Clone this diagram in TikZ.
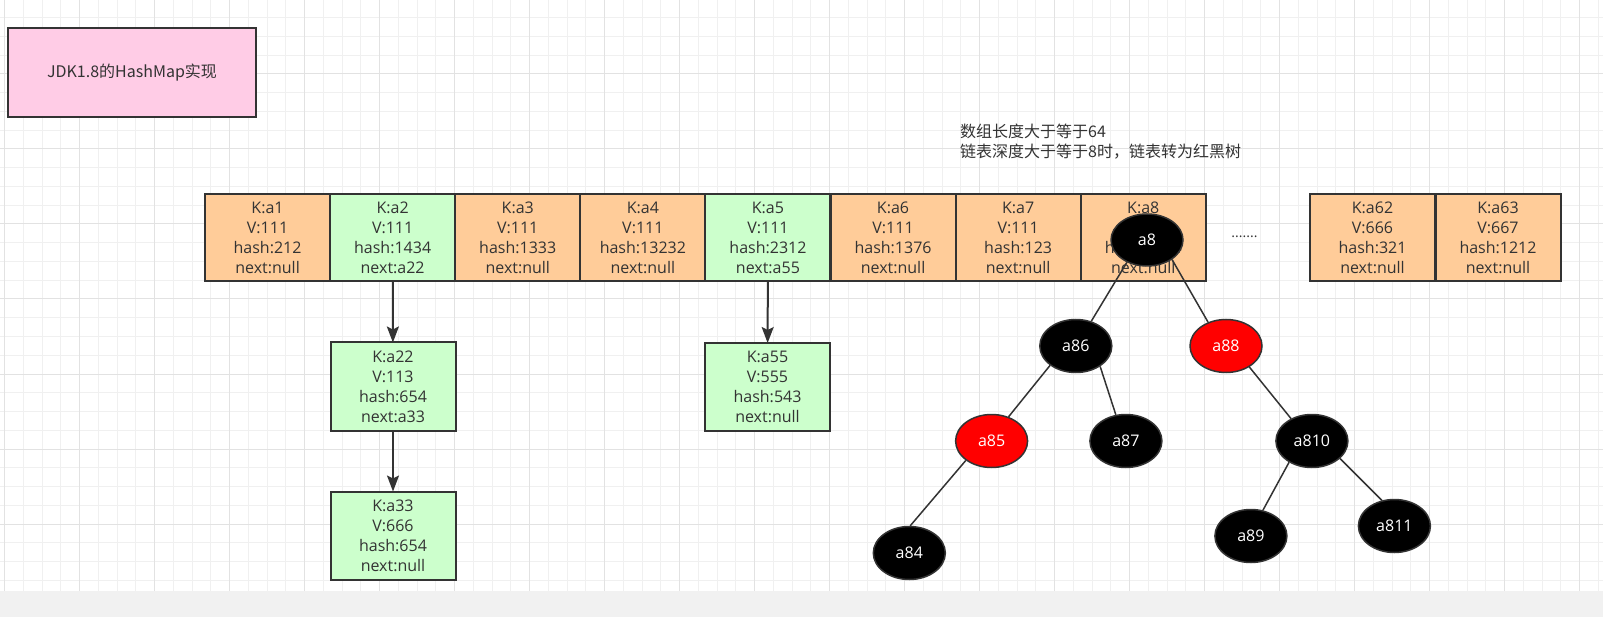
\documentclass[tikz,border=0pt]{standalone}
\usepackage{fontspec}
\setmainfont{Noto Sans CJK SC}
\newfontfamily\latinfont{Open Sans}
\usetikzlibrary{arrows.meta,shapes.geometric}

\definecolor{ink}{HTML}{333333}
\definecolor{cellorange}{HTML}{FFCC99}
\definecolor{cellgreen}{HTML}{CCFFCC}
\definecolor{titlepink}{HTML}{FFCCE6}
\definecolor{gridminor}{HTML}{F0F0F0}
\definecolor{gridmajor}{HTML}{E2E2E2}
\definecolor{bandgray}{HTML}{F1F1F1}

\tikzset{
  entry/.style={draw=ink, line width=2pt, fill=cellorange, minimum width=125pt, minimum height=87pt,
    inner sep=0pt, outer sep=0pt, align=center, text=ink, font=\latinfont\fontsize{16}{20}\selectfont},
  chainbox/.style={entry, fill=cellgreen, minimum height=88pt},
  blacknode/.style={ellipse, draw=ink, line width=1.5pt, fill=black, text=white, minimum width=72pt,
    minimum height=53pt, inner sep=0pt, font=\latinfont\fontsize{16}{18}\selectfont},
  rednode/.style={blacknode, fill=red},
  treeedge/.style={draw=ink, line width=1.5pt},
  nextarrow/.style={draw=ink, line width=2pt, -{Stealth[length=16pt, width=12pt, inset=3pt]}},
}

\begin{document}
\begin{tikzpicture}[x=1pt, y=-1pt]

\def\width{1603}
\def\height{617}
\def\band{591}
\def\rowy{237.5}

\path [use as bounding box] (0,0) rectangle (\width,\height);

% GRID
\fill [white] (0,0) rectangle (\width,\band);
\foreach \i in {0,...,85} \draw [gridminor, line width=1pt] ({4.5+18.75*\i},0) -- ({4.5+18.75*\i},\band);
\foreach \j in {1,...,31} \draw [gridminor, line width=1pt] (0,{-1+18.75*\j}) -- (\width,{-1+18.75*\j});
\foreach \i in {0,...,21} \draw [gridmajor, line width=1pt] ({4.5+75*\i},0) -- ({4.5+75*\i},\band);
\foreach \j in {1,...,7} \draw [gridmajor, line width=1pt] (0,{-1+75*\j}) -- (\width,{-1+75*\j});
\fill [bandgray] (0,\band) rectangle (\width,\height);

% TITLE
\node [draw=ink, line width=2pt, fill=titlepink, minimum width=248pt, minimum height=89pt,
  text=ink, font=\fontsize{16}{20}\selectfont] (title) at (132,72.5) {JDK1.8的HashMap实现};

% NOTE
\node [anchor=west, align=left, inner sep=0pt, text=ink, font=\fontsize{16}{20}\selectfont] (note) at (960,142)
  {数组长度大于等于64\\链表深度大于等于8时，链表转为红黑树};

% ARRAY
\foreach \k/\v/\h/\n/\c [count=\i] in {a1/111/212/null/cellorange, a2/111/1434/a22/cellgreen,
    a3/111/1333/null/cellorange, a4/111/13232/null/cellorange, a5/111/2312/a55/cellgreen,
    a6/111/1376/null/cellorange, a7/111/123/null/cellorange, a8/111/1234/null/cellorange}
  \node [entry, fill=\c] (\k) at ({205+125.1*(\i-0.5)},\rowy) {K:\k\\V:\v\\hash:\h\\next:\n};
\node [entry] (a62) at (1372.5,\rowy) {K:a62\\V:666\\hash:321\\next:null};
\node [entry] (a63) at (1498,\rowy) {K:a63\\V:667\\hash:1212\\next:null};
\node [anchor=base, inner sep=0pt, text=ink, font=\latinfont\fontsize{14}{16}\selectfont] (dots) at (1244.5,238) {.......};

% CHAINS
\node [chainbox] (a22) at (393,386.5) {K:a22\\V:113\\hash:654\\next:a33};
\node [chainbox] (a33) at (393,535.5) {K:a33\\V:666\\hash:654\\next:null};
\node [chainbox] (a55) at (767.5,387) {K:a55\\V:555\\hash:543\\next:null};
\draw [nextarrow] (a2) -- (a22);
\draw [nextarrow] (a22) -- (a33);
\draw [nextarrow] (a5) -- (a55);

% TREE
\node [blacknode, minimum height=52pt] (rb8) at (1147,240) {a8};
\node [blacknode] (rb86) at (1075.8,346) {a86};
\node [rednode] (rb88) at (1226,346) {a88};
\node [rednode] (rb85) at (991.6,441) {a85};
\node [blacknode] (rb87) at (1125.9,441) {a87};
\node [blacknode] (rb810) at (1311.9,441) {a810};
\node [blacknode] (rb84) at (909.3,553) {a84};
\node [blacknode] (rb89) at (1250.9,536) {a89};
\node [blacknode] (rb811) at (1394.4,526) {a811};

\draw [treeedge] (rb8.228) -- (rb86.58);
\draw [treeedge] (rb8.322) -- (rb88.127);
\draw [treeedge] (rb86.217) -- (rb85.55);
\draw [treeedge] (rb86.320) -- (rb87.111);
\draw [treeedge] (rb85.217) -- (rb84.88);
\draw [treeedge] (rb88.318) -- (rb810.133);
\draw [treeedge] (rb810.223) -- (rb89.65);
\draw [treeedge] (rb810.328) -- (rb811.116);

\end{tikzpicture}
\end{document}
